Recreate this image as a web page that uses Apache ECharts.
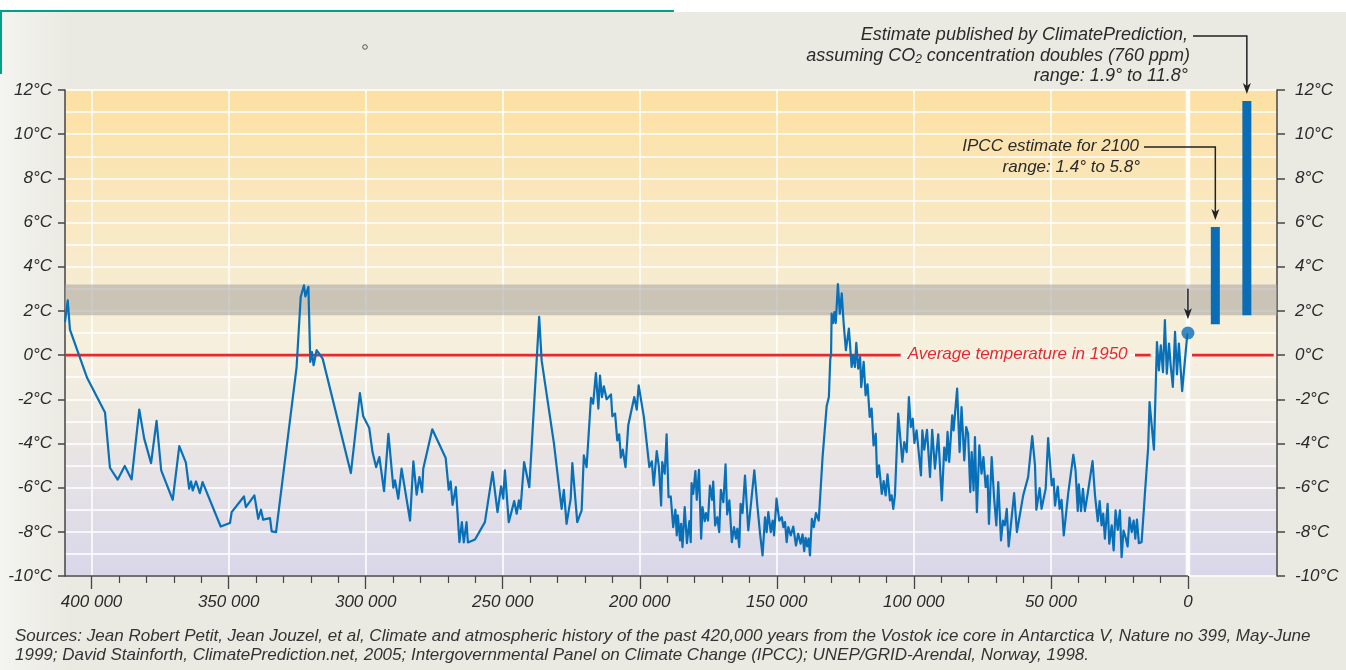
<!DOCTYPE html>
<html>
<head>
<meta charset="utf-8">
<title>Vostok temperature record</title>
<script src="https://cdn.jsdelivr.net/npm/echarts@6/dist/echarts.min.js"></script>
<style>
  html, body { margin: 0; padding: 0; }
  body { background: linear-gradient(to right, #f4f4f0 0, #eae9e2 70px); }
  #main { width: 1346px; height: 670px; }
</style>
</head>
<body>
<div id="main"></div>
<script>
// age in thousand years before present, temperature difference in °C
const vostokAge = [
  409.7, 408.7, 407.9, 401.6, 395.1, 393.3, 390.5, 387.9, 385.4, 382.6,
  380.8, 378.3, 376.3, 374.6, 370.4, 368.0, 365.6, 364.4, 363.7, 363.1,
  361.9, 360.5, 359.5, 352.9, 349.5, 348.9, 344.4, 343.7, 340.6, 339.2,
  338.2, 337.4, 334.9, 334.3, 332.7, 325.2, 323.7, 322.5, 322.0, 320.9,
  320.2, 319.6, 319.0, 317.9, 315.7, 305.4, 302.1, 300.9, 298.7, 297.5,
  296.2, 295.0, 293.3, 291.7, 289.9, 289.3, 288.1, 286.9, 283.8, 282.6,
  281.4, 280.4, 279.4, 279.0, 275.7, 270.8, 269.7, 269.0, 268.3, 267.1,
  265.8, 264.9, 264.2, 263.2, 262.7, 260.1, 256.5, 253.7, 251.9, 250.6,
  249.8, 249.2, 247.8, 245.8, 244.9, 244.1, 243.5, 242.2, 240.3, 236.7,
  235.8, 231.3, 228.5, 227.7, 226.7, 225.2, 224.6, 222.8, 221.2, 220.4,
  219.4, 217.8, 217.0, 216.0, 215.1, 214.5, 213.8, 213.1, 212.1, 210.5,
  210.0, 209.0, 208.2, 207.5, 206.9, 206.2, 205.2, 204.2, 202.0, 201.1,
  200.4, 198.5, 196.5, 195.6, 194.9, 193.8, 193.0, 192.2, 191.8, 190.9,
  190.2, 189.5, 188.7, 187.8, 187.0, 186.5, 186.1, 185.3, 184.9, 184.4,
  183.6, 182.8, 181.9, 181.4, 181.1, 180.5, 179.7, 179.2, 178.4, 177.6,
  177.1, 176.3, 175.8, 175.1, 174.4, 173.6, 173.2, 172.5, 171.7, 171.0,
  170.4, 169.5, 168.7, 168.1, 167.3, 166.4, 165.6, 164.9, 164.4, 163.7,
  163.2, 162.5, 161.6, 160.4, 158.2, 157.1, 156.1, 155.2, 154.3, 153.7,
  153.1, 152.2, 151.5, 151.0, 150.1, 149.1, 148.2, 147.6, 147.0, 146.4,
  145.8, 144.9, 144.0, 143.0, 142.2, 141.3, 140.6, 140.0, 139.5, 138.9,
  138.4, 137.9, 137.2, 136.5, 135.7, 134.7, 133.3, 131.8, 131.0, 130.5,
  130.2, 130.0, 129.5, 129.0, 128.5, 127.7, 127.0, 126.3, 125.6, 124.8,
  123.7, 122.7, 122.2, 121.5, 121.0, 120.3, 119.6, 119.2, 118.3, 117.6,
  116.9, 116.1, 115.4, 114.7, 113.9, 113.4, 112.7, 111.7, 111.0, 110.3,
  109.6, 108.7, 108.1, 107.5, 106.9, 105.7, 104.2, 103.5, 102.6, 101.8,
  101.1, 100.4, 99.8, 99.0, 97.4, 96.9, 96.2, 95.2, 94.1, 93.3,
  92.3, 91.1, 89.8, 88.9, 88.2, 87.7, 87.1, 86.0, 85.5, 84.2,
  83.3, 82.6, 81.6, 80.9, 80.2, 79.4, 78.9, 78.2, 77.7, 77.0,
  76.1, 75.3, 74.6, 73.8, 73.1, 72.6, 71.6, 70.7, 69.9, 69.2,
  68.2, 67.5, 66.8, 66.1, 65.4, 63.4, 62.4, 60.1, 58.3, 56.8,
  55.8, 55.3, 54.1, 53.4, 51.9, 51.0, 49.7, 49.0, 48.5, 47.5,
  46.8, 46.1, 45.3, 43.7, 41.8, 41.0, 40.2, 39.8, 39.0, 38.3,
  37.6, 36.4, 34.8, 33.9, 32.9, 32.2, 31.5, 30.9, 30.3, 29.3,
  28.7, 27.8, 27.1, 26.4, 25.6, 24.8, 24.2, 23.5, 22.7, 22.0,
  21.3, 20.5, 19.8, 19.2, 18.6, 17.9, 16.9, 15.7, 14.5, 14.0,
  12.4, 11.3, 10.6, 9.9, 9.1, 8.4, 7.7, 6.9, 6.3, 5.5,
  4.7, 4.0, 3.3, 2.1, 1.1, 0.2
]
const vostokTemp = [
  1.5, 2.48, 1.15, -1.04, -2.6, -5.1, -5.64, -5.02, -5.63, -2.47,
  -3.78, -4.89, -2.98, -5.22, -6.55, -4.12, -4.87, -6.05, -5.72, -6.13,
  -5.72, -6.25, -5.75, -7.76, -7.6, -7.11, -6.4, -6.88, -6.35, -7.41,
  -7.0, -7.45, -7.38, -7.98, -8.01, -0.54, 2.63, 3.16, 2.66, 3.09,
  -0.31, 0.14, -0.46, 0.22, -0.16, -5.34, -1.72, -2.77, -3.3, -4.39,
  -5.07, -4.62, -6.16, -3.56, -6.0, -5.67, -6.5, -5.14, -7.49, -4.81,
  -6.32, -5.52, -6.2, -5.14, -3.36, -4.66, -6.1, -5.72, -6.78, -5.98,
  -8.47, -7.56, -8.48, -7.56, -8.48, -8.35, -7.56, -5.3, -7.11, -5.94,
  -6.5, -5.22, -7.56, -6.61, -7.18, -6.58, -6.96, -4.84, -5.98, 1.73,
  -0.24, -4.01, -6.96, -6.1, -7.64, -6.5, -4.89, -7.56, -7.03, -4.54,
  -5.07, -1.94, -2.2, -0.81, -2.42, -0.93, -1.9, -1.41, -2.0, -1.78,
  -2.77, -2.65, -3.86, -3.59, -4.64, -4.28, -5.07, -3.18, -1.9, -2.47,
  -1.37, -2.8, -5.07, -4.81, -5.9, -4.35, -5.07, -6.81, -4.84, -5.37,
  -3.59, -6.43, -6.4, -7.79, -7.0, -8.16, -7.26, -8.39, -7.64, -8.69,
  -6.88, -8.51, -7.52, -8.47, -5.8, -6.28, -5.25, -6.55, -5.19, -8.31,
  -6.88, -7.52, -7.15, -7.49, -5.91, -6.55, -5.73, -7.71, -7.34, -8.01,
  -6.1, -6.66, -4.95, -7.21, -6.58, -8.47, -7.79, -8.31, -7.86, -8.69,
  -6.73, -7.15, -5.45, -7.94, -5.22, -6.81, -8.09, -9.07, -7.34, -8.01,
  -7.11, -8.01, -7.49, -8.16, -6.5, -7.49, -7.34, -7.79, -7.56, -8.47,
  -7.79, -8.16, -7.76, -8.62, -8.09, -8.54, -8.12, -8.88, -8.27, -8.66,
  -8.31, -9.07, -7.41, -7.79, -7.15, -7.49, -4.62, -2.3, -1.9, -0.2,
  0.05, 1.88, 1.45, 1.95, 1.45, 3.21, 1.88, 2.79, 1.43, 0.22,
  1.2, -0.54, -0.01, -0.54, 0.55, -0.61, -0.09, -1.45, -0.31, -1.82,
  -1.32, -2.8, -2.42, -4.09, -3.56, -5.52, -4.99, -6.28, -5.7, -6.35,
  -5.4, -6.58, -6.35, -6.96, -6.35, -2.65, -4.84, -3.94, -4.39, -1.9,
  -3.26, -2.88, -3.98, -3.41, -5.45, -3.41, -4.28, -3.38, -5.52, -3.38,
  -5.14, -3.59, -6.58, -4.19, -4.77, -3.48, -4.84, -2.73, -3.41, -1.52,
  -4.39, -2.35, -4.77, -3.26, -3.56, -6.2, -4.39, -6.13, -3.71, -7.11,
  -4.09, -5.37, -4.62, -5.98, -5.45, -7.64, -4.62, -6.5, -7.71, -5.75,
  -8.39, -7.49, -7.71, -6.96, -8.66, -6.25, -8.01, -6.35, -5.52, -3.67,
  -4.99, -7.0, -6.02, -6.96, -6.05, -3.76, -5.9, -5.6, -6.81, -5.95,
  -6.96, -6.55, -8.16, -6.28, -4.51, -5.22, -7.06, -5.85, -7.06, -6.05,
  -7.06, -6.13, -4.8, -6.35, -7.52, -6.61, -7.71, -7.18, -8.31, -6.73,
  -8.54, -7.71, -8.84, -7.03, -7.91, -7.03, -9.15, -7.94, -8.27, -8.66,
  -7.36, -8.01, -7.49, -8.31, -7.45, -8.51, -8.47, -6.28, -4.16, -2.13,
  -4.28, 0.59, -0.69, 0.44, -0.77, 1.58, -0.84, 0.52, -0.46, -1.44,
  1.05, -0.87, 0.52, -1.63, -0.24, 0.97
]

// present day reading (year 0) and the two estimates drawn as bars on the right
const presentAge = 0
const presentTemp = 1.0
const projectionAge = [-10, -21.5]
const projectionLow = [1.4, 1.8]
const projectionHigh = [5.8, 11.5]

// band of previous interglacial maxima and the 1950 average
const bandLow = 1.8
const bandHigh = 3.2
const avg1950 = 0

// axis range and tick labels (thousand years)
const ageMin = -32.5
const ageMax = 409.7
const yearTicks = [0, 50, 100, 150, 200, 250, 300, 350, 400]
const yearMinorTicks = [
  10, 20, 30, 40, 60, 70, 80, 90, 110, 120, 130, 140, 160, 170, 180, 190,
  210, 220, 230, 240, 260, 270, 280, 290, 310, 320, 330, 340, 360, 370, 380, 390
]
const tempMin = -10
const tempMax = 12

const FONT = '"Liberation Sans", Arial, sans-serif'
const TEXT = '#2a2a2a'
const AXIS = '#454545'
const BLUE = '#0a6db6'
const RED = '#e52a2f'

const labelStyle = {
  fontFamily: FONT,
  fontStyle: 'italic',
  fontSize: 17,
  color: TEXT,
}

const chart = echarts.init(document.getElementById('main'))

const option = {
  animation: false,
  grid: {
    left: 65,
    right: 69,
    top: 90,
    bottom: 94,
    show: true,
    borderWidth: 0,
    backgroundColor: new echarts.graphic.LinearGradient(0, 0, 0, 1, [
      { offset: 0, color: '#fde0a2' },
      { offset: 0.2, color: '#fae6ba' },
      { offset: 0.4, color: '#f7ecd1' },
      { offset: 0.55, color: '#f5f0df' },
      { offset: 0.7, color: '#ece7e2' },
      { offset: 0.85, color: '#e2dfe7' },
      { offset: 1, color: '#d9d6ea' },
    ]),
  },
  xAxis: [
    {
      type: 'value',
      inverse: true,
      min: ageMin,
      max: ageMax,
      splitNumber: 9,
      position: 'bottom',
      axisLine: { show: false, onZero: false },
      axisTick: { show: true, length: 13, customValues: yearTicks, lineStyle: { color: AXIS, width: 1.3 } },
      axisLabel: {
        ...labelStyle,
        customValues: yearTicks,
        margin: 18,
        formatter: (v) => (v === 0 ? '0' : v + ' 000'),
      },
      splitLine: { show: true, lineStyle: { color: '#ffffff', width: 1.5 } },
    },
    {
      // short ticks every 10 000 years
      type: 'value',
      inverse: true,
      min: ageMin,
      max: ageMax,
      position: 'bottom',
      axisLine: { show: false, onZero: false },
      axisTick: { show: true, length: 7, customValues: yearMinorTicks, lineStyle: { color: AXIS, width: 1.2 } },
      axisLabel: { show: false },
      splitLine: { show: false },
    },
  ],
  yAxis: [
    {
      type: 'value',
      min: tempMin,
      max: tempMax,
      interval: 2,
      position: 'left',
      axisLine: { show: true, onZero: false, lineStyle: { color: AXIS, width: 1.5 } },
      axisTick: { show: true, length: 7, lineStyle: { color: AXIS, width: 1.5 } },
      axisLabel: { ...labelStyle, margin: 13, formatter: (v) => v + '°C' },
      splitLine: { show: true, lineStyle: { color: '#ffffff', width: 1.5 } },
      minorTick: { show: false, splitNumber: 2 },
      minorSplitLine: { show: true, lineStyle: { color: '#ffffff', width: 1.5 } },
    },
    {
      type: 'value',
      min: tempMin,
      max: tempMax,
      interval: 2,
      position: 'right',
      axisLine: { show: true, onZero: false, lineStyle: { color: AXIS, width: 1.5 } },
      axisTick: { show: true, length: 8, lineStyle: { color: AXIS, width: 1.5 } },
      axisLabel: { ...labelStyle, margin: 18, formatter: (v) => v + '°C' },
      splitLine: { show: false },
    },
  ],
  series: [
    {
      // background marks: the year-0 strip and the grey band
      type: 'line',
      z: 1,
      data: [],
      silent: true,
      markArea: {
        silent: true,
        data: [
          [
            { xAxis: 0.85, yAxis: tempMax, itemStyle: { color: 'rgba(255,255,255,0.85)' } },
            { xAxis: -0.85, yAxis: tempMin },
          ],
          [
            { xAxis: ageMax, yAxis: bandHigh, itemStyle: { color: 'rgba(165,162,158,0.55)' } },
            { xAxis: ageMin, yAxis: bandLow },
          ],
        ],
      },
    },
    {
      name: 'Average temperature in 1950',
      type: 'line',
      z: 2,
      symbol: 'none',
      connectNulls: false,
      lineStyle: { color: RED, width: 2.6 },
      data: [
        [ageMax, avg1950], [104.8, avg1950], '-',
        [19.3, avg1950], [13.6, avg1950], '-',
        [-1.5, avg1950], [-31.3, avg1950],
      ],
    },
    {
      name: 'Vostok',
      type: 'line',
      z: 3,
      symbol: 'none',
      lineStyle: { color: '#0870b9', width: 2.2, join: 'round' },
      data: vostokAge.map((a, i) => [a, vostokTemp[i]]),
    },
    {
      name: 'Estimates',
      type: 'custom',
      z: 4,
      data: projectionAge.map((a, i) => [a, projectionLow[i], projectionHigh[i]]),
      encode: { x: 0, y: [1, 2] },
      renderItem(params, api) {
        const top = api.coord([api.value(0), api.value(2)])
        const bottom = api.coord([api.value(0), api.value(1)])
        return {
          type: 'rect',
          shape: { x: top[0] - 4.5, y: top[1], width: 9, height: bottom[1] - top[1] },
          style: { fill: BLUE },
        }
      },
    },
    {
      name: 'Present',
      type: 'scatter',
      z: 5,
      symbolSize: 13,
      itemStyle: { color: BLUE },
      data: [[presentAge, presentTemp]],
    },
  ],
}

chart.setOption(option)

const px = (age, temp) => chart.convertToPixel({ seriesIndex: 2 }, [age, temp])

function downArrow(x, fromY, tipY) {
  return [
    { type: 'line', z: 10, shape: { x1: x, y1: fromY, x2: x, y2: tipY - 6 }, style: { stroke: '#222', lineWidth: 1.5 } },
    {
      type: 'polygon',
      z: 10,
      shape: { points: [[x - 4, tipY - 11], [x, tipY - 8], [x + 4, tipY - 11], [x, tipY]] },
      style: { fill: '#222' },
    },
  ]
}

function connector(x0, y, x1, tipY) {
  return [
    {
      type: 'polyline',
      z: 10,
      shape: { points: [[x0, y], [x1, y], [x1, tipY - 6]] },
      style: { stroke: '#222', lineWidth: 1.5, fill: null },
    },
    ...downArrow(x1, tipY - 6, tipY),
  ]
}

function label(text, x, y, align, extra) {
  return {
    type: 'text',
    z: 10,
    style: {
      text,
      x,
      y,
      align,
      verticalAlign: 'middle',
      fontFamily: FONT,
      fontStyle: 'italic',
      fontSize: 18,
      fill: TEXT,
      ...extra,
    },
  }
}

const cpTop = px(projectionAge[1], projectionHigh[1])
const ipccTop = px(projectionAge[0], projectionHigh[0])
const zeroFrom = px(presentAge, 3.0)
const zeroTip = px(presentAge, 1.62)
const redStart = px(104.8, avg1950)
const axisLeft = px(ageMax, tempMin)
const axisZero = px(0, tempMin)

const graphic = [
  { type: 'rect', shape: { x: 0, y: 0, width: 1346, height: 12 }, style: { fill: '#ffffff' } },
  { type: 'line', shape: { x1: 0, y1: 11, x2: 674, y2: 11 }, style: { stroke: '#00a08b', lineWidth: 2 } },
  { type: 'line', shape: { x1: 1, y1: 10, x2: 1, y2: 74 }, style: { stroke: '#00a08b', lineWidth: 2 } },
  { type: 'circle', shape: { cx: 365, cy: 47, r: 2.3 }, style: { stroke: '#555', lineWidth: 1, fill: null } },
  // x axis line stops at year 0
  {
    type: 'line',
    z: 10,
    shape: { x1: axisLeft[0], y1: axisLeft[1], x2: axisZero[0], y2: axisZero[1] },
    style: { stroke: AXIS, lineWidth: 1.5 },
  },
  // ClimatePrediction annotation
  label('Estimate published by ClimatePrediction,', 1188, 35, 'right'),
  {
    type: 'text',
    z: 10,
    style: {
      text: '{a|assuming CO}{s|2}{a| concentration doubles (760 ppm)}',
      x: 1190,
      y: 56,
      align: 'right',
      verticalAlign: 'middle',
      fill: TEXT,
      rich: {
        a: { fontFamily: FONT, fontStyle: 'italic', fontSize: 18, lineHeight: 20, fill: TEXT },
        s: { fontFamily: FONT, fontStyle: 'italic', fontSize: 12, lineHeight: 12, verticalAlign: 'bottom', fill: TEXT },
      },
    },
  },
  label('range: 1.9° to 11.8°', 1188, 76, 'right'),
  ...connector(1193, 36, cpTop[0], cpTop[1] - 7),
  // IPCC annotation
  label('IPCC estimate for 2100', 1139, 146, 'right', { fontSize: 17 }),
  label('range: 1.4° to 5.8°', 1140, 167, 'right', { fontSize: 17 }),
  ...connector(1144, 147, ipccTop[0], ipccTop[1] - 7),
  // arrow to present-day value
  ...downArrow(zeroFrom[0], zeroFrom[1], zeroTip[1]),
  // red line caption
  label('Average temperature in 1950', redStart[0] + 7, redStart[1] - 1, 'left', { fill: RED, fontSize: 17 }),
  // sources
  label(
    'Sources: Jean Robert Petit, Jean Jouzel, et al, Climate and atmospheric history of the past 420,000 years from the Vostok ice core in Antarctica V, Nature no 399, May-June',
    15, 636, 'left', { fontSize: 17, fill: '#333' }
  ),
  label(
    '1999; David Stainforth, ClimatePrediction.net, 2005; Intergovernmental Panel on Climate Change (IPCC); UNEP/GRID-Arendal, Norway, 1998.',
    15, 655, 'left', { fontSize: 17, fill: '#333' }
  ),
]

chart.setOption({ graphic })
</script>
</body>
</html>
